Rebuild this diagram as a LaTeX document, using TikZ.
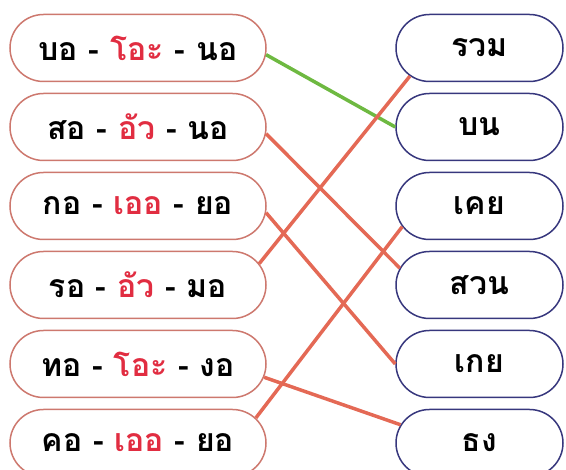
\documentclass[tikz,border=0pt]{standalone}
\usepackage{fontspec}
\newfontfamily\thaifont[Script=Thai]{Loma}
\usetikzlibrary{shapes.misc}
\definecolor{sylline}{RGB}{205,120,110}
\definecolor{wordline}{RGB}{55,55,125}
\definecolor{matchred}{RGB}{228,105,85}
\definecolor{matchgreen}{RGB}{110,185,65}
\definecolor{vowelred}{RGB}{225,45,65}
\newcommand{\vw}[1]{\textcolor{vowelred}{#1}}

\begin{document}
\begin{tikzpicture}[x=1pt,y=1pt,
  syl/.style={draw=sylline, line width=1.5pt, rounded rectangle, minimum width=256pt, minimum height=67pt, inner sep=0pt, font=\thaifont\bfseries\fontsize{32}{38}\selectfont},
  word/.style={syl, draw=wordline, minimum width=167pt},
  link/.style={matchred, line width=3.5pt}]
\useasboundingbox (0,0) rectangle (566,470);
\node[syl] (s1) at (138,422) {บอ - \vw{โอะ} - นอ};
\node[syl] (s2) at (138,343) {สอ - \vw{อัว} - นอ};
\node[syl] (s3) at (138,264) {กอ - \vw{เออ} - ยอ};
\node[syl] (s4) at (138,185) {รอ - \vw{อัว} - มอ};
\node[syl] (s5) at (138,106) {ทอ - \vw{โอะ} - งอ};
\node[syl] (s6) at (138,27) {คอ - \vw{เออ} - ยอ};
\node[word] (w1) at (479.5,422) {รวม};
\node[word] (w2) at (479.5,343) {บน};
\node[word] (w3) at (479.5,264) {เคย};
\node[word] (w4) at (479.5,185) {สวน};
\node[word] (w5) at (479.5,106) {เกย};
\node[word] (w6) at (479.5,27) {ธง};
\draw[link, matchgreen] (s1.-3) -- (w2.west);
\draw[link] (s2.-3) -- (w4.168);
\draw[link] (s3.-3) -- (w5.west);
\draw[link] (s4.10) -- (w1.202);
\draw[link] (s5.-6) -- (w6.167);
\draw[link] (s6.12) -- (w3.195);
\end{tikzpicture}
\end{document}
